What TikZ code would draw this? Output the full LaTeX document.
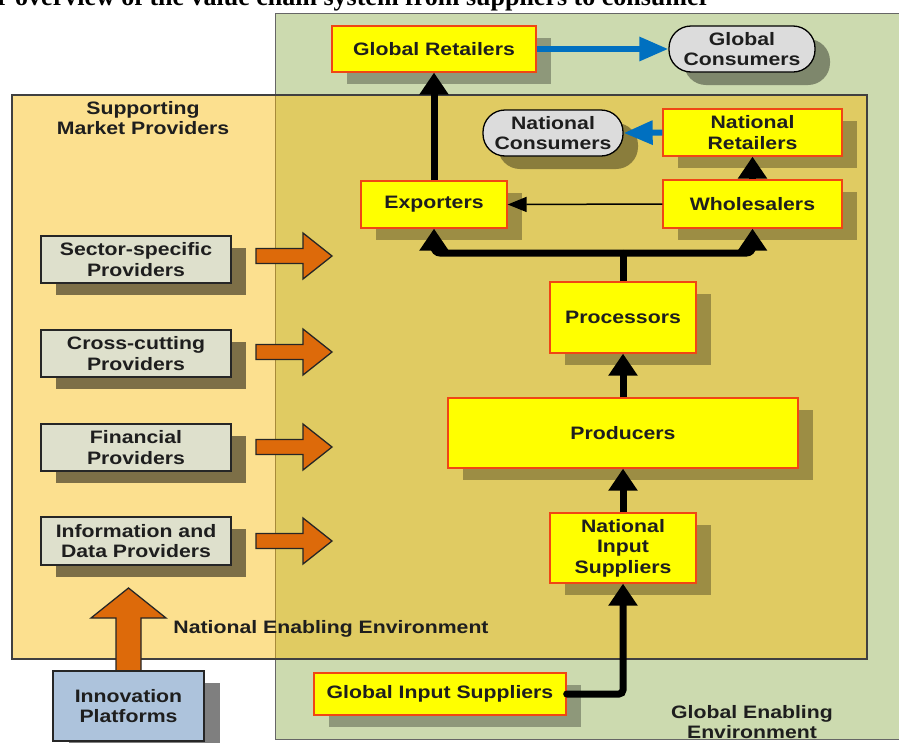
\documentclass[tikz,border=0pt]{standalone}
\usepackage{fontspec}
\setmainfont{Liberation Sans}
\newfontfamily\lblfont[FakeStretch=1.18]{Liberation Sans}
\newfontfamily\ttlfont{Liberation Serif}
\usetikzlibrary{arrows.meta,shadows}

\definecolor{gbg}{RGB}{204,218,175}
\definecolor{nfill}{RGB}{250,185,0}
\definecolor{ybox}{RGB}{255,255,0}
\definecolor{ybord}{RGB}{240,70,20}
\definecolor{pfill}{RGB}{222,224,204}
\definecolor{ifill}{RGB}{173,195,220}
\definecolor{cfill}{RGB}{220,220,220}
\definecolor{oarr}{RGB}{221,106,10}
\definecolor{barr}{RGB}{0,112,192}
\definecolor{txt}{RGB}{30,30,30}

\begin{document}
\begin{tikzpicture}[x=1pt,y=-1pt,
  lbl/.style={font=\lblfont\bfseries\fontsize{18}{20.5}\selectfont, text=txt, align=center},
  vc/.style={lbl, draw=ybord, line width=1.3pt, fill=ybox, inner sep=0pt,
    general shadow={shadow xshift=15pt, shadow yshift=-12pt, fill=black, opacity=0.3}},
  cons/.style={lbl, draw=black, line width=1.3pt, fill=cfill, inner sep=0pt, rounded corners=22pt,
    general shadow={shadow xshift=15pt, shadow yshift=-13pt, fill=black, opacity=0.38}},
  prov/.style={lbl, draw=black!85, line width=1.4pt, fill=pfill, inner sep=0pt,
    minimum width=190pt, minimum height=47pt,
    general shadow={shadow xshift=15pt, shadow yshift=-12pt, fill=black, opacity=0.5}},
  innov/.style={lbl, draw=black!85, line width=1.4pt, fill=ifill, inner sep=0pt,
    general shadow={shadow xshift=16pt, shadow yshift=-12pt, fill=black, opacity=0.5}},
  flow/.style={line width=7pt, -{Triangle[length=22pt,width=28pt]}},
  flowline/.style={line width=7pt},
  thinflow/.style={line width=1.5pt, -{Triangle[length=19pt,width=15pt]}},
  blueflow/.style={line width=6pt, draw=barr, -{Triangle[length=29pt,width=23pt]}},
  oarrstyle/.style={draw=black!85, line width=1.3pt, fill=oarr, line join=miter},
  oarrow/.pic={\draw[oarrstyle] (0,-7.5) -- (47,-7.5) -- (47,-23) -- (76,0) -- (47,23) -- (47,7.5) -- (0,7.5) -- cycle;},
  envlbl/.style={lbl, inner sep=0pt}
]
\useasboundingbox (0,0) rectangle (899,742);
\fill[white] (0,0) rectangle (899,742);

% title (cut off at the top)
\begin{scope}
\clip (0,0) rectangle (899,742);
\node[anchor=base west, inner sep=0pt, font=\ttlfont\bfseries\fontsize{26}{30}\selectfont] (title) at (-3,5)
  {r overview of the value chain system from suppliers to consumer};
\end{scope}

% environments
\draw[fill=gbg, draw=black!60, line width=1pt] (275,13) rectangle (905,739);
\draw[fill=nfill, fill opacity=0.44, draw=black!75, line width=1.5pt] (12,95) rectangle (867,659);

\node[envlbl] (smp) at (143,118) {Supporting\\Market Providers};
\node[envlbl] (nee) at (331,629) {National Enabling Environment};
\node[envlbl] (gee) at (752,722) {Global Enabling\\Environment};

% value chain nodes
\node[vc, minimum width=204pt, minimum height=46pt] (gr) at (434,49) {Global Retailers};
\node[cons, minimum width=146pt, minimum height=46pt] (gc) at (742,49) {Global\\Consumers};
\node[cons, minimum width=140pt, minimum height=46pt] (nc) at (553,133) {National\\Consumers};
\node[vc, minimum width=179pt, minimum height=47pt] (nr) at (752.5,132.5) {National\\Retailers};
\node[vc, minimum width=146pt, minimum height=47pt] (exp) at (434,204.5) {Exporters};
\node[vc, minimum width=179pt, minimum height=48pt] (whs) at (752.5,204) {Wholesalers};
\node[vc, minimum width=146pt, minimum height=71pt] (proc) at (623,317.5) {Processors};
\node[vc, minimum width=350pt, minimum height=70pt] (prod) at (623,433) {Producers};
\node[vc, minimum width=146pt, minimum height=70pt] (nis) at (623,548) {National\\Input\\Suppliers};
\node[vc, minimum width=252pt, minimum height=42pt] (gis) at (440,694) {Global Input Suppliers};

% providers
\node[prov] (sec) at (136,259.5) {Sector-specific\\Providers};
\node[prov] (cross) at (136,353.5) {Cross-cutting\\Providers};
\node[prov] (fin) at (136,447.5) {Financial\\Providers};
\node[prov, minimum height=48pt] (info) at (136,541) {Information and\\Data Providers};

% orange arrows
\pic at (256,256) {oarrow};
\pic at (256,352) {oarrow};
\pic at (256,447) {oarrow};
\pic at (256,541) {oarrow};

% innovation platforms
\draw[oarrstyle, shift={(128.5,671)}] (-12.5,0) -- (-12.5,-53) -- (-37.5,-53) -- (0,-83) -- (37.5,-53) -- (12.5,-53) -- (12.5,0) -- cycle;
\node[innov, minimum width=151pt, minimum height=70pt] (inn) at (128.5,706) {Innovation\\Platforms};

% connectors
\draw[flow, line cap=round, rounded corners=4pt] (gis.east) -| (nis.south);
\draw[flow] (nis.north) -- (prod.south);
\draw[flow] (prod.north) -- (proc.south);
\coordinate (br) at (623,253);
\draw[flowline] (proc.north) -- (br);
\draw[flow, rounded corners=6pt] (br) -| (exp.south);
\draw[flow, rounded corners=6pt] (br) -| (whs.south);
\draw[flow] (exp.north) -- (gr.south);
\draw[flow] (whs.north) -- (nr.south);
\draw[thinflow] (whs.west) -- (exp.east);
\draw[blueflow] (gr.east) -- (gc.west);
\draw[blueflow] (nr.west) -- (nc.east);
\end{tikzpicture}
\end{document}
